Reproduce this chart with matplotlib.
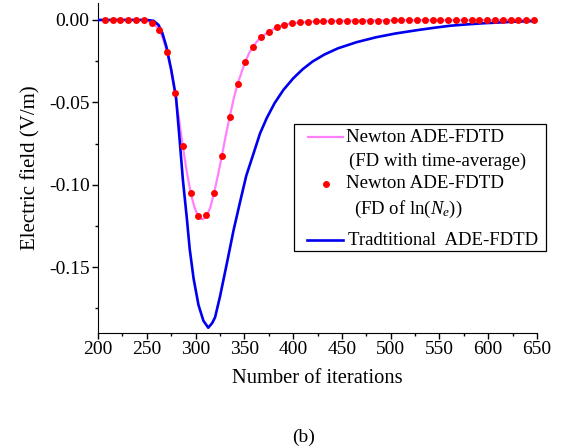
import matplotlib
matplotlib.use("Agg")
import matplotlib.pyplot as plt
from matplotlib.lines import Line2D
from matplotlib.patches import Rectangle
from matplotlib.ticker import MultipleLocator, FormatStrFormatter

plt.rcParams['font.family'] = ['Liberation Serif', 'DejaVu Serif']
plt.rcParams['mathtext.fontset'] = 'custom'
plt.rcParams['mathtext.rm'] = 'Liberation Serif'
plt.rcParams['mathtext.it'] = 'Liberation Serif:italic'
plt.rcParams['axes.unicode_minus'] = False

# traditional ADE-FDTD (blue)
trad_it = [200, 250, 257, 262, 266, 270, 275, 280, 284, 287, 291, 294, 298, 303, 308,
           313, 317, 320, 325, 332, 339, 346, 352, 360, 366, 373, 381, 390, 400, 410,
           420, 432, 446, 465, 485, 505, 527, 545, 561, 578, 595, 612, 629, 650]
trad_e = [0.0, 0.0, -0.0005, -0.003, -0.008, -0.016, -0.030, -0.047, -0.075, -0.097,
          -0.120, -0.139, -0.157, -0.173, -0.1825, -0.1868, -0.184, -0.1805, -0.168,
          -0.148, -0.1275, -0.1095, -0.0945, -0.080, -0.069, -0.0595, -0.0505, -0.0425,
          -0.0355, -0.0298, -0.0252, -0.0210, -0.0172, -0.0135, -0.0105, -0.0082,
          -0.0062, -0.0047, -0.0035, -0.0027, -0.002, -0.0015, -0.001, -0.0006]

# Newton ADE-FDTD, FD with time-average (pink line)
avg_it = [200, 250, 255, 260, 263, 267, 271, 275, 279, 283, 287, 291, 295, 299, 303,
          307, 311, 315, 319, 323, 327, 331, 335, 339, 343, 347, 351, 355, 359, 363,
          367, 375, 383, 391, 399, 420, 450, 500, 650]
avg_e = [0.0, 0.0, -0.0015, -0.004, -0.006, -0.012, -0.020, -0.031, -0.045, -0.060,
         -0.077, -0.092, -0.105, -0.114, -0.1195, -0.121, -0.1195, -0.114, -0.105,
         -0.094, -0.0825, -0.070, -0.0588, -0.048, -0.039, -0.032, -0.0253, -0.020,
         -0.0162, -0.013, -0.0105, -0.0071, -0.0045, -0.003, -0.002, -0.001, -0.0005,
         -0.0002, 0.0]

# Newton ADE-FDTD, FD of ln(Ne) (red dots)
ln_it = list(range(207, 650, 8))
ln_e = [0.0, 0.0, 0.0, 0.0, 0.0, 0.0, -0.0016, -0.0061, -0.0197, -0.0446,
        -0.0766, -0.105, -0.119, -0.1186, -0.105, -0.0825, -0.0588, -0.0391, -0.0253,
        -0.0162, -0.0105, -0.0071, -0.0041, -0.003, -0.002, -0.0013, -0.0011, -0.0009,
        -0.0008, -0.0007, -0.0006, -0.0006, -0.0005, -0.0005, -0.0004, -0.0004,
        -0.0004, -0.0003, -0.0003, -0.0003, -0.0003, -0.0002, -0.0002, -0.0002,
        -0.0002, -0.0002, -0.0001, -0.0001, -0.0001, -0.0001, -0.0001, -0.0001,
        0.0, 0.0, 0.0, 0.0]

fig = plt.figure(figsize=(5.63, 4.48), dpi=100)
ax = fig.add_axes([98 / 563, 1 - 333 / 448, (537 - 98) / 563, (333 - 3) / 448])

ax.plot(avg_it, avg_e, color='#ff80ff', lw=1.6, zorder=2, solid_joinstyle='round')
ax.plot(trad_it, trad_e, color='#0000ee', lw=1.9, zorder=3, solid_joinstyle='round')
ax.plot(ln_it, ln_e, 'o', color='#ff0000', ms=5, mec='none', zorder=4, clip_on=False)

ax.set_xlim(200, 650)
ax.set_ylim(-0.19, 0.0103)
ax.spines['top'].set_visible(False)
ax.spines['right'].set_visible(False)
ax.xaxis.set_major_locator(MultipleLocator(50))
ax.xaxis.set_minor_locator(MultipleLocator(25))
ax.yaxis.set_major_locator(MultipleLocator(0.05))
ax.yaxis.set_minor_locator(MultipleLocator(0.025))
ax.yaxis.set_major_formatter(FormatStrFormatter('%.2f'))
ax.tick_params(which='major', direction='out', length=4, width=1, labelsize=14, pad=2)
ax.tick_params(which='minor', direction='out', length=2.5, width=1)
ax.set_xlabel('Number of iterations', fontsize=14.8, labelpad=8)
ax.set_ylabel('Electric field (V/m)', fontsize=15, labelpad=6)

# legend drawn by hand, in pixel positions of the figure
def fx(px):
    return px / 563

def fy(py):
    return 1 - py / 448

fig.patches.append(Rectangle((fx(294), fy(251)), fx(546) - fx(294), fy(124) - fy(251),
                             transform=fig.transFigure, fill=False, ec='black', lw=0.9))
fig.lines.append(Line2D([fx(308), fx(343)], [fy(137), fy(137)], color='#ff80ff', lw=1.6,
                        transform=fig.transFigure))
fig.lines.append(Line2D([fx(326)], [fy(184)], marker='o', color='#ff0000', ms=5, mec='none',
                        transform=fig.transFigure))
fig.lines.append(Line2D([fx(307), fx(343)], [fy(240.5), fy(240.5)], color='#0000ee', lw=1.9,
                        transform=fig.transFigure))
fig.text(fx(346), fy(137), 'Newton ADE-FDTD', fontsize=13.6, va='center')
fig.text(fx(349), fy(161), '(FD with time-average)', fontsize=13.5, va='center')
fig.text(fx(346), fy(184), 'Newton ADE-FDTD', fontsize=13.6, va='center')
fig.text(fx(354), fy(209), r'(FD of ln($N_e$))', fontsize=13.5, va='center')
fig.text(fx(348), fy(240), 'Tradtitional  ADE-FDTD', fontsize=13.5, va='center')

fig.text(fx(304), fy(446), '(b)', fontsize=14, ha='center', va='bottom')

fig.savefig('out.png', dpi=100)
